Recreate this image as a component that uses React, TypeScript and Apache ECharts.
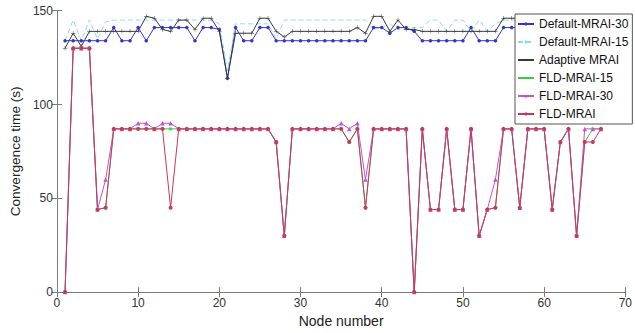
import React, { useEffect, useRef } from "react";
import * as echarts from "echarts";

const nodes = [
  1, 2, 3, 4, 5, 6, 7, 8, 9, 10, 11, 12, 13, 14, 15, 16, 17, 18, 19, 20,
  21, 22, 23, 24, 25, 26, 27, 28, 29, 30, 31, 32, 33, 34, 35, 36, 37, 38, 39, 40,
  41, 42, 43, 44, 45, 46, 47, 48, 49, 50, 51, 52, 53, 54, 55, 56, 57, 58, 59, 60,
  61, 62, 63, 64, 65, 66, 67,
];

const defaultMrai30 = [
  134, 134, 134, 134, 134, 134, 141, 134, 134, 141,
  134, 141, 141, 141, 141, 141, 134, 141, 141, 140,
  114, 141, 134, 134, 141, 141, 134, 134, 134, 134,
  134, 134, 134, 134, 134, 134, 134, 134, 141, 141,
  138, 141, 141, 139, 134, 134, 134, 134, 134, 134,
  141, 134, 134, 134, 141, 141, 141, 134, 134, 141,
  141, 134, 134, 141, 134, 134, 141,
];

const defaultMrai15 = [
  134, 145, 134, 145, 135, 144, 145, 145, 145, 145,
  145, 145, 145, 145, 145, 145, 145, 145, 145, 143,
  118, 143, 143, 143, 143, 143, 135, 145, 145, 145,
  145, 145, 145, 145, 145, 145, 145, 145, 140, 141,
  143, 140, 140, 141, 141, 145, 145, 139, 145, 145,
  139, 145, 139, 143, 145, 145, 145, 145, 140, 145,
  145, 145, 145, 140, 145, 145, 145,
];

const adaptiveMrai = [
  130, 138, 131, 139, 139, 139, 139, 139, 139, 139,
  147, 146, 140, 139, 145, 145, 140, 146, 146, 139,
  114, 138, 138, 138, 146, 146, 139, 136, 139, 139,
  139, 139, 139, 139, 139, 139, 141, 138, 147, 147,
  139, 145, 140, 140, 139, 139, 139, 139, 139, 139,
  139, 139, 139, 139, 146, 146, 146, 139, 139, 146,
  146, 139, 139, 146, 139, 139, 146,
];

const fldMrai15 = [
  0, 130, 130, 130, 44, 45, 87, 87, 87, 87,
  87, 87, 87, 87, 87, 87, 87, 87, 87, 87,
  87, 87, 87, 87, 87, 87, 80, 30, 87, 87,
  87, 87, 87, 87, 87, 80, 87, 45, 87, 87,
  87, 87, 87, 0, 87, 44, 44, 87, 44, 44,
  87, 30, 44, 45, 87, 87, 45, 87, 87, 87,
  44, 80, 87, 30, 80, 87, 87,
];

const fldMrai30 = [
  0, 130, 130, 130, 44, 60, 87, 87, 87, 90,
  90, 87, 90, 90, 87, 87, 87, 87, 87, 87,
  87, 87, 87, 87, 87, 87, 80, 30, 87, 87,
  87, 87, 87, 87, 90, 87, 90, 60, 87, 87,
  87, 87, 87, 0, 87, 44, 44, 87, 44, 44,
  87, 30, 44, 60, 87, 87, 45, 87, 87, 87,
  44, 80, 87, 30, 87, 87, 87,
];

const fldMrai = [
  0, 130, 130, 130, 44, 45, 87, 87, 87, 87,
  87, 87, 87, 45, 87, 87, 87, 87, 87, 87,
  87, 87, 87, 87, 87, 87, 80, 30, 87, 87,
  87, 87, 87, 87, 87, 80, 87, 45, 87, 87,
  87, 87, 87, 0, 87, 44, 44, 87, 44, 44,
  87, 30, 44, 45, 87, 87, 45, 87, 87, 87,
  44, 80, 87, 30, 80, 80, 87,
];

const seriesNames = [
  "Default-MRAI-30",
  "Default-MRAI-15",
  "Adaptive MRAI",
  "FLD-MRAI-15",
  "FLD-MRAI-30",
  "FLD-MRAI",
];

const xTicks = { min: 0, max: 70, interval: 10 };
const yTicks = { min: 0, max: 150, interval: 50 };

const FONT = "'Liberation Sans', Arial, Helvetica, sans-serif";
const PLUS = "path://M0,4.5H10V5.5H0ZM4.5,0H5.5V10H4.5Z";
const STAR = "path://M0,4.4H10V5.6H0ZM4.4,0H5.6V10H4.4ZM1.2,2L2,1.2L8.8,8L8,8.8ZM8,1.2L8.8,2L2,8.8L1.2,8Z";

const pairs = (vals: number[]) => nodes.map((n, i) => [n, vals[i]]);

export default function App() {
  const ref = useRef<HTMLDivElement>(null);
  useEffect(() => {
    if (!ref.current) return;
    const chart = echarts.init(ref.current, null, { renderer: "svg" });
    const axisGray = "#7a7a7a";
    const baseX = {
      type: "value",
      min: xTicks.min,
      max: xTicks.max,
      interval: xTicks.interval,
      axisLine: { show: true, lineStyle: { color: axisGray, width: 1 } },
      axisTick: { show: true, inside: true, length: 5, lineStyle: { color: axisGray } },
      splitLine: { show: false },
    };
    const baseY = {
      type: "value",
      min: yTicks.min,
      max: yTicks.max,
      interval: yTicks.interval,
      axisLine: { show: true, lineStyle: { color: axisGray, width: 1 } },
      axisTick: { show: true, inside: true, length: 5, lineStyle: { color: axisGray } },
      splitLine: { show: false },
    };
    const mk = (
      idx: number,
      vals: number[],
      color: string,
      symbol: string,
      symbolSize: number,
      extra: any = {}
    ) => ({
      name: seriesNames[idx],
      type: "line",
      data: pairs(vals),
      xAxisIndex: 0,
      yAxisIndex: 0,
      symbol,
      symbolSize,
      showSymbol: symbol !== "none",
      lineStyle: { color, width: 1, ...(extra.lineStyle || {}) },
      itemStyle: { color },
      emphasis: { disabled: true },
    });
    chart.setOption({
      animation: false,
      backgroundColor: "#ffffff",
      textStyle: { fontFamily: FONT },
      grid: { left: 47, right: 4.5, top: 10.7, bottom: 37.3, containLabel: false },
      xAxis: [
        {
          ...baseX,
          position: "bottom",
          name: "Node number",
          nameLocation: "middle",
          nameGap: 20,
          nameTextStyle: { fontSize: 14, color: "#222", fontFamily: FONT },
          axisLabel: { color: "#333", fontSize: 12, margin: 5, fontFamily: FONT },
        },
        { ...baseX, position: "top", axisLabel: { show: false } },
      ],
      yAxis: [
        {
          ...baseY,
          position: "left",
          name: "Convergence time (s)",
          nameLocation: "middle",
          nameGap: 26,
          nameTextStyle: { fontSize: 13.6, color: "#222", fontFamily: FONT },
          axisLabel: { color: "#333", fontSize: 12, margin: 4, fontFamily: FONT },
        },
        { ...baseY, position: "right", axisLabel: { show: false } },
      ],
      legend: {
        orient: "vertical",
        left: 515,
        top: 14,
        z: 20,
        itemWidth: 16,
        itemHeight: 4,
        itemGap: 6,
        padding: [4, 4, 4, 2],
        backgroundColor: "#ffffff",
        borderColor: "#555555",
        borderWidth: 1,
        borderRadius: 0,
        selectedMode: false,
        textStyle: { fontSize: 12, color: "#111", fontFamily: FONT },
        data: seriesNames,
      },
      series: [
        mk(0, defaultMrai30, "#3434d0", "circle", 3.5),
        mk(1, defaultMrai15, "#8adcec", "none", 4, { lineStyle: { type: [5, 3] } }),
        mk(2, adaptiveMrai, "#3a3a3a", PLUS, 4.5),
        mk(3, fldMrai15, "#44c644", STAR, 4.5),
        mk(4, fldMrai30, "#c552d6", "triangle", 4.5),
        mk(5, fldMrai, "#c8385e", "circle", 4),
      ],
    });
    return () => chart.dispose();
  }, []);
  return (
    <div
      ref={ref}
      style={{ position: "fixed", left: 0, top: 0, width: 635, height: 333, background: "#fff" }}
    />
  );
}
